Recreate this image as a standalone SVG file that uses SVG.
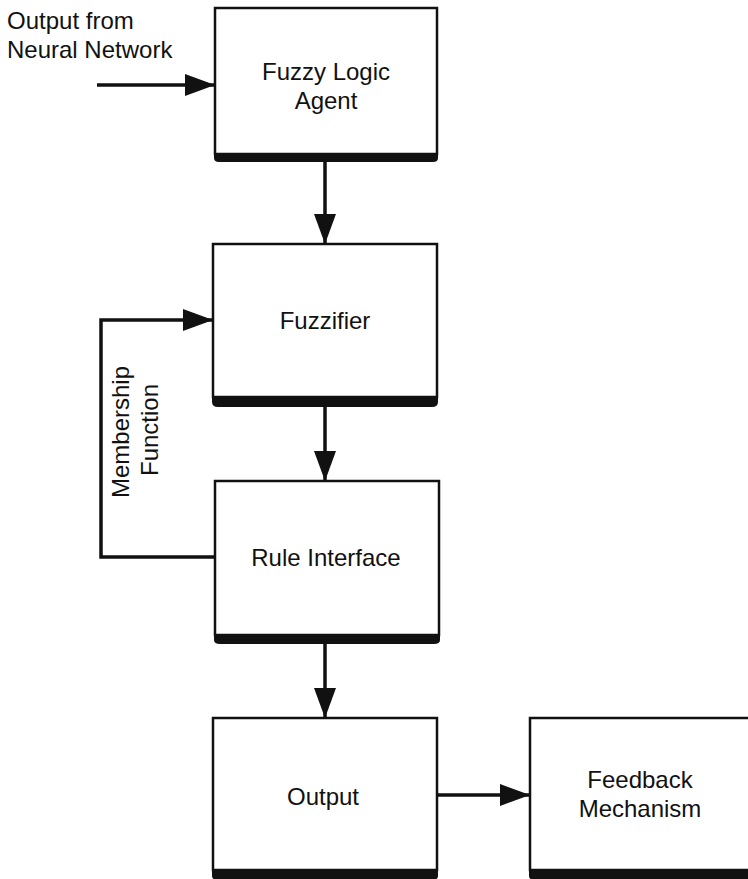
<svg xmlns="http://www.w3.org/2000/svg" width="748" height="879" viewBox="0 0 748 879">
  <style>
    .box { fill: #fff; stroke: #111; stroke-width: 2.5; }
    .base { fill: #111; }
    .lbl { font-family: "Liberation Sans", Arial, sans-serif; font-size: 24px; fill: #111; text-anchor: middle; }
    .free { font-family: "Liberation Sans", Arial, sans-serif; font-size: 24px; fill: #111; }
    .wire { fill: none; stroke: #111; stroke-width: 3.5; }
  </style>
  <defs>
    <marker id="head" viewBox="0 0 30 22" refX="30" refY="11" markerWidth="30" markerHeight="22" markerUnits="userSpaceOnUse" orient="auto">
      <path d="M0,0 L30,11 L0,22 Z" fill="#111"/>
    </marker>
  </defs>
  <rect width="748" height="879" fill="#fff"/>

  <g id="connectors">
    <line class="wire" x1="97" y1="85" x2="215" y2="85" marker-end="url(#head)"/>
    <line class="wire" x1="325" y1="160" x2="325" y2="244" marker-end="url(#head)"/>
    <line class="wire" x1="325" y1="405" x2="325" y2="481" marker-end="url(#head)"/>
    <line class="wire" x1="325" y1="643" x2="325" y2="718" marker-end="url(#head)"/>
    <line class="wire" x1="437" y1="795" x2="530" y2="795" marker-end="url(#head)"/>
    <polyline class="wire" points="214,557 101,557 101,320 213,320" marker-end="url(#head)"/>
    <text class="lbl" transform="translate(129,432) rotate(-90)">Membership</text>
    <text class="lbl" transform="translate(158,430) rotate(-90)">Function</text>
  </g>

  <g id="input-label">
    <text class="free" x="7" y="29">Output from</text>
    <text class="free" x="7" y="58">Neural Network</text>
  </g>

  <g id="fuzzy-logic-agent">
    <path class="base" d="M214,150 H438 V158 Q438,162 433,162 H219 Q214,162 214,158 Z"/>
    <rect class="box" x="215" y="8" width="222" height="146"/>
    <text class="lbl" x="326" y="80">Fuzzy Logic</text>
    <text class="lbl" x="326" y="109">Agent</text>
  </g>

  <g id="fuzzifier">
    <path class="base" d="M212,394 H438 V402 Q438,407 432,407 H218 Q212,407 212,402 Z"/>
    <rect class="box" x="213" y="244" width="224" height="153"/>
    <text class="lbl" x="325" y="329">Fuzzifier</text>
  </g>

  <g id="rule-interface">
    <path class="base" d="M214,632 H440 V640 Q440,644 434,644 H220 Q214,644 214,640 Z"/>
    <rect class="box" x="215" y="481" width="224" height="154"/>
    <text class="lbl" x="326" y="566">Rule Interface</text>
  </g>

  <g id="output">
    <path class="base" d="M212,868 H438 V876 Q438,880 432,880 H218 Q212,880 212,876 Z"/>
    <rect class="box" x="213" y="718" width="224" height="152"/>
    <text class="lbl" x="323" y="805">Output</text>
  </g>

  <g id="feedback-mechanism">
    <path class="base" d="M529,868 H750 V880 H535 Q529,880 529,876 Z"/>
    <rect class="box" x="530" y="718" width="222" height="152"/>
    <text class="lbl" x="640" y="788">Feedback</text>
    <text class="lbl" x="640" y="817">Mechanism</text>
  </g>
</svg>
